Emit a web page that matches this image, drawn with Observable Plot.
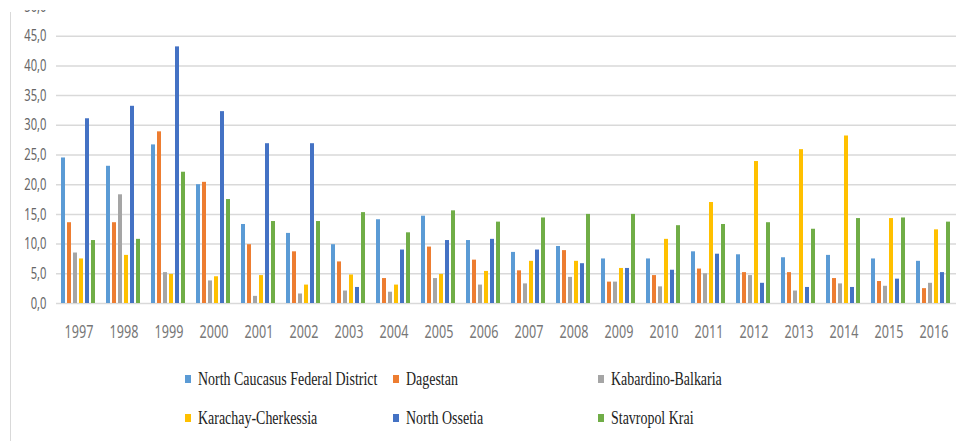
<!DOCTYPE html>
<html><head><meta charset="utf-8">
<script src="https://cdn.jsdelivr.net/npm/d3@7"></script>
<script src="https://cdn.jsdelivr.net/npm/@observablehq/plot@0.6"></script>
<style>
body{margin:0;background:#fff;width:960px;height:441px;overflow:hidden;position:relative;font-family:"Liberation Sans",sans-serif}
#chart{position:absolute;left:0;top:0}
#legend{position:absolute;left:0;top:345px;width:960px;height:96px}
.item{position:absolute;display:flex;align-items:center;white-space:nowrap;height:24px}
.sw{width:6px;height:8px;margin-right:7px;flex:none}
.lab{font-family:'Liberation Serif','DejaVu Serif';font-size:18px;color:#222;transform:scaleX(0.775);transform-origin:left center;display:inline-block}
#vline{position:absolute;left:10px;top:12px;width:1px;height:429px;background:#d9d9d9}
#mask{position:absolute;left:0;top:0;width:60px;height:10px;background:#fff}
</style></head><body>
<div id="chart"></div><div id="vline"></div><div id="mask"></div><div id="legend"></div>
<script>
const years = ["1997","1998","1999","2000","2001","2002","2003","2004","2005","2006","2007","2008","2009","2010","2011","2012","2013","2014","2015","2016"];
const series = ["North Caucasus Federal District","Dagestan","Kabardino-Balkaria","Karachay-Cherkessia","North Ossetia","Stavropol Krai"];
const colors = ["#5B9BD5","#ED7D31","#A5A5A5","#FFC000","#4472C4","#70AD47"];
const ncfd      = [24.5,23.1,26.7,20.0,13.3,11.8, 9.9,14.1,14.7,10.6, 8.6, 9.6, 7.5, 7.5, 8.7, 8.2, 7.7, 8.1, 7.5, 7.1];
const dagestan  = [13.6,13.6,28.9,20.4, 9.9, 8.7, 7.0, 4.2, 9.5, 7.3, 5.5, 8.9, 3.6, 4.7, 5.8, 5.2, 5.2, 4.2, 3.7, 2.5];
const kabardino = [ 8.5,18.3, 5.2, 3.8, 1.2, 1.6, 2.1, 1.9, 4.2, 3.1, 3.3, 4.4, 3.6, 2.8, 5.0, 4.7, 2.1, 3.3, 2.9, 3.4];
const karachay  = [ 7.5, 8.1, 4.9, 4.5, 4.7, 3.1, 4.8, 3.1, 4.9, 5.4, 7.1, 7.1, 5.9,10.8,17.0,23.9,25.9,28.2,14.3,12.4];
const ossetia   = [31.1,33.2,43.2,32.3,26.9,26.9, 2.7, 9.0,10.6,10.8, 9.0, 6.7, 5.9, 5.6, 8.3, 3.4, 2.7, 2.7, 4.1, 5.2];
const stavropol = [10.6,10.8,22.1,17.5,13.8,13.8,15.3,11.9,15.6,13.7,14.4,15.0,15.0,13.1,13.3,13.6,12.5,14.3,14.4,13.7];
const yTicks = [0,5,10,15,20,25,30,35,40,45,50];
const gridTicks = [0,5,10,15,20,25,30,35,40,45];

const values = [ncfd, dagestan, kabardino, karachay, ossetia, stavropol];
const data = [];
years.forEach((yr, i) => series.forEach((s, j) => data.push({year: yr, series: s, value: values[j][i]})));

const plot = Plot.plot({
  width: 960, height: 345,
  marginLeft: 55, marginRight: 3, marginTop: 6, marginBottom: 42,
  style: {background: "#fff", overflow: "visible"},
  fx: {domain: years, padding: 0, label: null},
  x: {domain: series, axis: null, paddingInner: 0.3, paddingOuter: 0.9},
  y: {domain: [0, 50], label: null},
  color: {domain: series, range: colors},
  marks: [
    Plot.gridY(gridTicks, {stroke: "#d9d9d9", strokeOpacity: 1, strokeWidth: 1.5}),
    Plot.barY(data, {fx: "year", x: "series", y: "value", fill: "series"}),
    Plot.axisY(yTicks, {tickSize: 0, tickPadding: 10, fontSize: 16, fill: "#666", label: null,
      tickFormat: d => d.toFixed(1).replace(".", ",")}),
    Plot.axisFx({anchor: "bottom", tickSize: 0, tickPadding: 22, fontSize: 18, fill: "#777", label: null})
  ]
});
document.getElementById("chart").appendChild(plot);

// condense tick label glyphs horizontally about their anchor
plot.querySelectorAll('g[aria-label$="tick label"] text').forEach(t => {
  const x = parseFloat(t.getAttribute("x")) || 0;
  const tr = t.getAttribute("transform") || "";
  t.setAttribute("transform", `${tr} translate(${x},0) scale(0.7,1) translate(${-x},0)`);
});

// legend
const legend = document.getElementById("legend");
const colX = [185, 393, 598];
const rowY = [34, 73];
series.forEach((s, i) => {
  const it = document.createElement("div");
  it.className = "item";
  it.style.left = colX[i % 3] + "px";
  it.style.top = (rowY[Math.floor(i / 3)] - 12) + "px";
  const sw = document.createElement("span");
  sw.className = "sw"; sw.style.background = colors[i];
  const lab = document.createElement("span");
  lab.className = "lab"; lab.textContent = s;
  it.appendChild(sw); it.appendChild(lab);
  legend.appendChild(it);
});
</script>
</body></html>
